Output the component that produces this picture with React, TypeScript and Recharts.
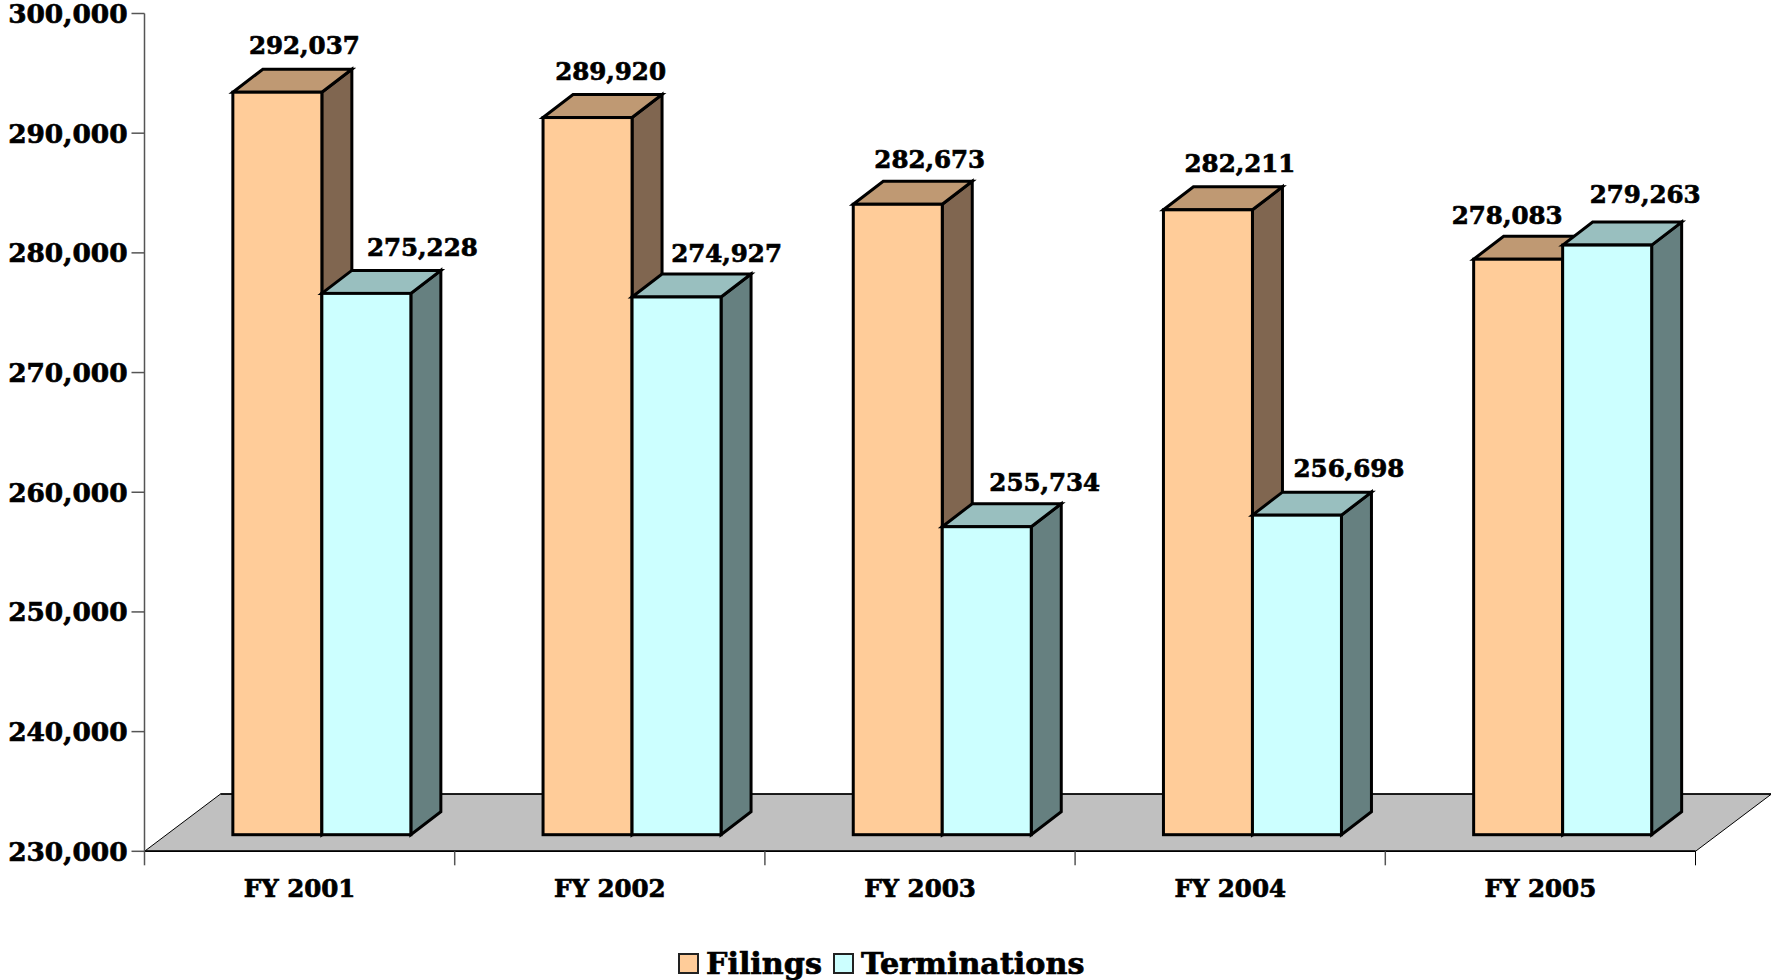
import React from 'react';
import { BarChart, Bar, XAxis, YAxis, Legend, LabelList, ReferenceArea } from 'recharts';

const years = ['FY 2001', 'FY 2002', 'FY 2003', 'FY 2004', 'FY 2005'];
const filings = [292037, 289920, 282673, 282211, 278083];
const terminations = [275228, 274927, 255734, 256698, 279263];
const yTicks = [230000, 240000, 250000, 260000, 270000, 280000, 290000, 300000];

const data = years.map((year, i) => ({
  year,
  filings: filings[i],
  terminations: terminations[i],
}));

const FONT = '"DejaVu Serif", serif';
const AXIS_COLOR = '#555';
const HEAVY = 0.7; // the original type is blacker than DejaVu Serif Bold

// the boxes sit a bit inside the floor, and stick out to the back right
const LIFT_X = 22;
const LIFT_Y = 16.6;
const DEPTH_X = 30;
const DEPTH_Y = 23;
const FLOOR_DEPTH = 76;
const FLOOR_TOP = 234787;
const BAND = 1551 / years.length;

// hand nudges for the value labels, the original placed them unevenly
const FILINGS_NUDGE = [
  [27, 0],
  [23, 1],
  [32, 2],
  [32, 0],
  [-11, 3],
];
const TERMINATIONS_NUDGE = [
  [56, 1],
  [50, 3],
  [58, 2],
  [52, 0],
  [38, -4],
];

const Box = ({ x, y, width, height, fill, top, side }: any) => {
  const left = x + LIFT_X;
  const right = left + width;
  const upper = y - LIFT_Y;
  const lower = upper + height;
  return (
    <g stroke="#000" strokeWidth={3} strokeLinejoin="miter">
      <polygon
        points={`${right},${upper} ${right + DEPTH_X},${upper - DEPTH_Y} ${right + DEPTH_X},${lower - DEPTH_Y} ${right},${lower}`}
        fill={side}
      />
      <polygon
        points={`${left},${upper} ${left + DEPTH_X},${upper - DEPTH_Y} ${right + DEPTH_X},${upper - DEPTH_Y} ${right},${upper}`}
        fill={top}
      />
      <rect x={left} y={upper} width={width} height={height} fill={fill} />
    </g>
  );
};

const Floor = ({ x, y, width, height }: any) => (
  <g>
    <polygon
      points={`${x},${y + height} ${x + width},${y + height} ${x + width + FLOOR_DEPTH},${y} ${x + FLOOR_DEPTH},${y}`}
      fill="#c0c0c0"
      stroke="#000"
      strokeWidth={1}
    />
    <line x1={x} y1={y + height} x2={x + width} y2={y + height} stroke="#000" strokeWidth={1.5} />
    <line x1={x + FLOOR_DEPTH} y1={y} x2={x + width + FLOOR_DEPTH} y2={y} stroke="#000" strokeWidth={1.5} />
  </g>
);

const YearTick = ({ x, y, payload, index }: any) => (
  <g>
    <line x1={x - BAND / 2} y1={y - 8} x2={x - BAND / 2} y2={y + 6} stroke={AXIS_COLOR} strokeWidth={1.5} />
    {index === years.length - 1 && (
      <line x1={x + BAND / 2} y1={y - 8} x2={x + BAND / 2} y2={y + 6} stroke="#000" strokeWidth={1} />
    )}
    <text
      x={x}
      y={y + 38}
      textAnchor="middle"
      fontFamily={FONT}
      fontWeight="bold"
      fontSize={24.5}
      fill="#000"
      stroke="#000"
      strokeWidth={HEAVY}
    >
      {payload.value}
    </text>
  </g>
);

const valueLabel = (nudges: number[][]) => ({ x, y, width, value, index }: any) => (
  <text
    x={x + LIFT_X + width / 2 + nudges[index][0]}
    y={y - LIFT_Y - DEPTH_Y - 24 + nudges[index][1]}
    dy="0.36em"
    textAnchor="middle"
    fontFamily={FONT}
    fontWeight="bold"
    fontSize={24.5}
    fill="#000"
    stroke="#000"
    strokeWidth={HEAVY}
  >
    {Number(value).toLocaleString('en-US')}
  </text>
);

const ChartLegend = ({ payload }: any) => (
  <div
    style={{
      display: 'flex',
      alignItems: 'center',
      height: 40,
      fontFamily: FONT,
      fontWeight: 'bold',
      fontSize: 30.2,
      color: '#000',
      WebkitTextStroke: '0.7px #000',
    }}
  >
    {payload.map((entry: any) => (
      <div key={entry.value} style={{ display: 'flex', alignItems: 'center', marginRight: 11 }}>
        <span
          style={{
            display: 'inline-block',
            boxSizing: 'border-box',
            width: 21,
            height: 21,
            marginRight: 7,
            background: entry.color,
            border: '2.5px solid #222',
          }}
        />
        {entry.value}
      </div>
    ))}
  </div>
);

export default function App() {
  return (
    <div style={{ position: 'absolute', left: 0, top: 0, width: 1771, height: 980, background: '#fff' }}>
      <BarChart
        width={1771}
        height={980}
        data={data}
        margin={{ top: 13.5, right: 75.5, bottom: 2, left: 0 }}
        barCategoryGap={66.35}
        barGap={0}
      >
        <XAxis
          dataKey="year"
          height={86.7}
          interval={0}
          axisLine={{ stroke: '#000', strokeWidth: 1.5 }}
          tickLine={false}
          tick={<YearTick />}
        />
        <YAxis
          domain={[230000, 300000]}
          ticks={yTicks}
          width={144.5}
          interval={0}
          tickSize={13}
          tickMargin={4}
          axisLine={{ stroke: AXIS_COLOR, strokeWidth: 1.5 }}
          tickLine={{ stroke: AXIS_COLOR, strokeWidth: 1.5 }}
          tick={{ fontFamily: FONT, fontWeight: 'bold', fontSize: 26.4, fill: '#000', stroke: '#000', strokeWidth: HEAVY }}
          tickFormatter={(v: number) => v.toLocaleString('en-US')}
        />
        <ReferenceArea y1={230000} y2={FLOOR_TOP} ifOverflow="visible" shape={<Floor />} />
        <Legend
          content={<ChartLegend />}
          wrapperStyle={{ left: 678, width: 'auto', height: 40, bottom: -3 }}
        />
        <Bar
          dataKey="filings"
          name="Filings"
          fill="#ffcc99"
          isAnimationActive={false}
          shape={<Box top="#bf9973" side="#806650" />}
        >
          <LabelList dataKey="filings" content={valueLabel(FILINGS_NUDGE)} />
        </Bar>
        <Bar
          dataKey="terminations"
          name="Terminations"
          fill="#ccffff"
          isAnimationActive={false}
          shape={<Box top="#99bfbf" side="#668080" />}
        >
          <LabelList dataKey="terminations" content={valueLabel(TERMINATIONS_NUDGE)} />
        </Bar>
      </BarChart>
    </div>
  );
}
